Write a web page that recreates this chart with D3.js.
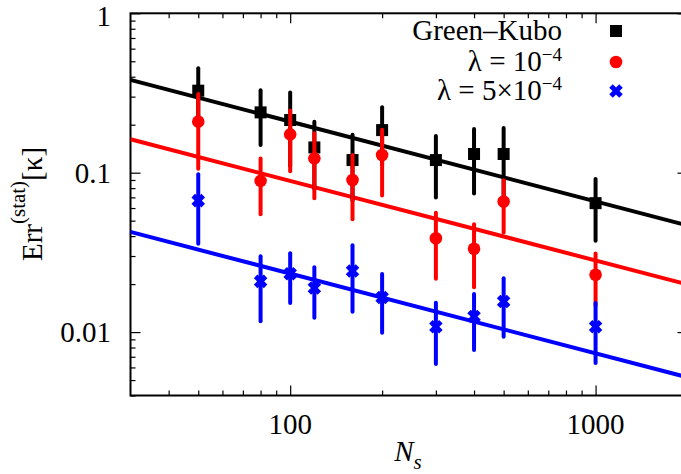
<!DOCTYPE html>
<html>
<head>
<meta charset="utf-8">
<script src="https://cdn.jsdelivr.net/npm/d3@7"></script>
<style>
  body { margin: 0; background: #fff; }
</style>
</head>
<body>
<script>
// sample sizes
var ns = [50, 80, 100, 120, 160, 200, 300, 400, 500, 1000];

// Green-Kubo
var gkVal = [0.327, 0.239, 0.214, 0.144, 0.120, 0.185, 0.120, 0.131, 0.131, 0.0644];
var gkErr = [0.125, 0.090, 0.104, 0.065, 0.053, 0.072, 0.050, 0.057, 0.060, 0.027];

// lambda = 1e-4
var l1Val = [0.209, 0.0889, 0.174, 0.123, 0.090, 0.129, 0.0388, 0.0333, 0.0659, 0.0229];
var l1Err = [0.103, 0.034, 0.072, 0.054, 0.039, 0.057, 0.0172, 0.0142, 0.0238, 0.0082];

// lambda = 5e-4
var l5Val = [0.0668, 0.0208, 0.0232, 0.0189, 0.0242, 0.0165, 0.0108, 0.01253, 0.01555, 0.0108];
var l5Err = [0.031, 0.0091, 0.008, 0.0066, 0.0108, 0.0066, 0.0045, 0.0048, 0.0062, 0.0044];

// fitted N^-1/2 lines, read at both ends of the x range
var fitN = [30, 2000];
var gkFit = [0.382, 0.0467];
var l1Fit = [0.162, 0.0199];
var l5Fit = [0.0425, 0.0052];

var xMajor = [100, 1000];
var xMinor = [40, 50, 60, 70, 80, 90, 200, 300, 400, 500, 600, 700, 800, 900, 2000];
var yMajor = [0.01, 0.1, 1];
var yMinor = [0.004, 0.005, 0.006, 0.007, 0.008, 0.009, 0.02, 0.03, 0.04, 0.05, 0.06, 0.07, 0.08, 0.09,
              0.2, 0.3, 0.4, 0.5, 0.6, 0.7, 0.8, 0.9];

var serif = "'Liberation Serif', 'DejaVu Serif', serif";

var margin = { left: 130.5, top: 13.3 };
var width = 557;
var height = 382.2;

var x = d3.scaleLog().domain([30, 2000]).range([0, width]);
var y = d3.scaleLog().domain([0.004, 1]).range([height, 0]);

var svg = d3.select("body").append("svg")
    .attr("width", 681)
    .attr("height", 474)
    .attr("font-family", serif);

var g = svg.append("g")
    .attr("transform", "translate(" + margin.left + "," + margin.top + ")");

g.append("clipPath").attr("id", "plot")
    .append("rect").attr("width", width).attr("height", height);

// ticks (all pointing inward)
function tickAxis(axis, vals, size, tr) {
    var a = g.append("g")
        .attr("transform", tr)
        .call(axis.tickValues(vals).tickSize(size).tickFormat(""));
    a.select(".domain").remove();
    a.selectAll("line").attr("stroke", "#000").attr("stroke-width", 1.2);
    return a;
}
tickAxis(d3.axisBottom(x), xMajor, -10, "translate(0," + height + ")");
tickAxis(d3.axisBottom(x), xMinor, -5, "translate(0," + height + ")");
tickAxis(d3.axisBottom(x), xMajor, 10, "translate(0,0)");
tickAxis(d3.axisBottom(x), xMinor, 5, "translate(0,0)");
tickAxis(d3.axisRight(y), yMajor, 10, "translate(0,0)");
tickAxis(d3.axisRight(y), yMinor, 5, "translate(0,0)");
tickAxis(d3.axisRight(y), yMajor, -10, "translate(" + width + ",0)");
tickAxis(d3.axisRight(y), yMinor, -5, "translate(" + width + ",0)");

// tick labels
g.selectAll(".xlab")
    .data(xMajor)
    .enter()
    .append("text")
    .attr("x", function (d) { return x(d); })
    .attr("y", height + 39)
    .attr("text-anchor", "middle")
    .attr("font-family", serif)
    .attr("font-size", 29)
    .text(function (d) { return d; });

g.selectAll(".ylab")
    .data(yMajor)
    .enter()
    .append("text")
    .attr("x", -19.5)
    .attr("y", function (d) { return Math.max(y(d) + 10, 13); })
    .attr("text-anchor", "end")
    .attr("font-family", serif)
    .attr("font-size", 29)
    .text(function (d) { return d; });

// frame
g.append("rect")
    .attr("width", width)
    .attr("height", height)
    .attr("fill", "none")
    .attr("stroke", "#000")
    .attr("stroke-width", 2);

var series = [
    { color: "#000", val: gkVal, err: gkErr, fit: gkFit, mark: "square" },
    { color: "#ff0000", val: l1Val, err: l1Err, fit: l1Fit, mark: "circle" },
    { color: "#0000ff", val: l5Val, err: l5Err, fit: l5Fit, mark: "cross" }
];

var line = d3.line()
    .x(function (d) { return x(d[0]); })
    .y(function (d) { return y(d[1]); });

var plot = g.append("g").attr("clip-path", "url(#plot)");

series.forEach(function (s) {
    plot.append("path")
        .datum(fitN.map(function (n, i) { return [n, s.fit[i]]; }))
        .attr("d", line)
        .attr("fill", "none")
        .attr("stroke", s.color)
        .attr("stroke-width", 4);
});

function marker(sel, mark, color) {
    if (mark === "square") {
        sel.append("rect")
            .attr("x", -6).attr("y", -6)
            .attr("width", 12).attr("height", 12)
            .attr("fill", color);
    } else if (mark === "circle") {
        sel.append("circle").attr("r", 6.3).attr("fill", color);
    } else {
        sel.append("path")
            .attr("d", "M-5,-5L5,5M-5,5L5,-5")
            .attr("stroke", color)
            .attr("stroke-width", 5)
            .attr("fill", "none");
    }
}

series.forEach(function (s) {
    var pts = ns.map(function (n, i) { return { n: n, v: s.val[i], e: s.err[i] }; });
    var grp = plot.append("g");
    grp.selectAll(".err")
        .data(pts)
        .enter()
        .append("line")
        .attr("x1", function (d) { return x(d.n); })
        .attr("x2", function (d) { return x(d.n); })
        .attr("y1", function (d) { return y(d.v + d.e); })
        .attr("y2", function (d) { return y(d.v - d.e); })
        .attr("stroke", s.color)
        .attr("stroke-width", 4)
        .attr("stroke-linecap", "round");
    grp.selectAll(".pt")
        .data(pts)
        .enter()
        .append("g")
        .attr("transform", function (d) { return "translate(" + x(d.n) + "," + y(d.v) + ")"; })
        .each(function () { marker(d3.select(this), s.mark, s.color); });
});

// legend
var legendRows = [
    { y: 40, main: "Green\u2013Kubo", sup: "" },
    { y: 71, main: "\u03bb = 10", sup: "\u22124" },
    { y: 100, main: "\u03bb = 5\u00d710", sup: "\u22124" }
];
legendRows.forEach(function (r, i) {
    var t = svg.append("text")
        .attr("x", 562)
        .attr("y", r.y)
        .attr("text-anchor", "end")
        .attr("font-family", serif)
        .attr("font-size", 29)
        .text(r.main);
    if (r.sup) {
        t.append("tspan")
            .attr("dy", -10)
            .attr("font-size", 19)
            .text(r.sup);
    }
    var m = svg.append("g").attr("transform", "translate(616," + (r.y - 9) + ")");
    marker(m, series[i].mark, series[i].color);
});

// axis titles
var xt = svg.append("text")
    .attr("x", 408)
    .attr("y", 461)
    .attr("text-anchor", "middle")
    .attr("font-family", serif)
    .attr("font-size", 29)
    .attr("font-style", "italic")
    .text("N");
xt.append("tspan").attr("dy", 8).attr("font-size", 21).text("s");

var yt = svg.append("text")
    .attr("transform", "translate(42,204) rotate(-90)")
    .attr("text-anchor", "middle")
    .attr("font-family", serif)
    .attr("font-size", 29)
    .text("Err");
yt.append("tspan").attr("dy", -17).attr("font-size", 21).text("(stat)");
yt.append("tspan").attr("dy", 17).attr("font-size", 29).text("[\u03ba]");
</script>
</body>
</html>
